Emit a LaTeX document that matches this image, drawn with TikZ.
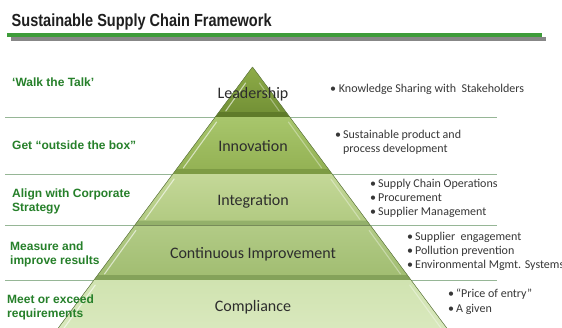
\documentclass[tikz,border=0pt]{standalone}
\usepackage{fontspec}
\setmainfont{Carlito}
\newfontfamily\arialf{Liberation Sans}
\newfontfamily\titlef[FakeStretch=0.83]{Liberation Sans}

\definecolor{barGreen}{RGB}{62,156,58}
\definecolor{barShadow}{RGB}{135,135,135}
\definecolor{labelGreen}{RGB}{38,128,42}
\definecolor{sepGreen}{RGB}{150,182,150}
\definecolor{itemGray}{RGB}{55,55,55}
\definecolor{tierText}{RGB}{45,45,45}
\definecolor{edgeGreen}{RGB}{105,130,70}
% tier colours: top, bottom, lower band
\definecolor{leadTop}{RGB}{142,172,72}
\definecolor{leadBot}{RGB}{112,142,52}
\definecolor{leadBand}{RGB}{92,120,40}
\definecolor{innoTop}{RGB}{168,198,108}
\definecolor{innoBot}{RGB}{146,176,82}
\definecolor{innoBand}{RGB}{122,152,66}
\definecolor{inteTop}{RGB}{196,216,152}
\definecolor{inteBot}{RGB}{176,201,128}
\definecolor{inteBand}{RGB}{142,172,102}
\definecolor{contTop}{RGB}{178,203,134}
\definecolor{contBot}{RGB}{160,188,112}
\definecolor{contBand}{RGB}{128,158,86}
\definecolor{compTop}{RGB}{208,227,176}
\definecolor{compBot}{RGB}{220,234,194}

% one tier of the pyramid: #1 top y, #2 bottom y, #3 top colour, #4 bottom colour, #5 band colour
\newcommand\pyrtier[5]{%
  \pgfmathsetmacro\yt{#1}%
  \pgfmathsetmacro\yb{#2}%
  \pgfmathsetmacro\ym{#2-5}%
  \pgfmathsetmacro\yha{#2-6}%
  \pgfmathsetmacro\yhb{(#1==67)?(#1+16):(#1+5)}%
  \pgfmathsetmacro\xlt{252.5-0.744*(\yt-67)}%
  \pgfmathsetmacro\xrt{252.5+0.744*(\yt-67)}%
  \pgfmathsetmacro\xlb{252.5-0.744*(\yb-67)}%
  \pgfmathsetmacro\xrb{252.5+0.744*(\yb-67)}%
  \pgfmathsetmacro\xlm{252.5-0.744*(\ym-67)}%
  \pgfmathsetmacro\xrm{252.5+0.744*(\ym-67)}%
  \pgfmathsetmacro\xlha{252.5-0.744*(\yha-67)+6}%
  \pgfmathsetmacro\xrha{252.5+0.744*(\yha-67)-6}%
  \pgfmathsetmacro\xlhb{252.5-0.744*(\yhb-67)+5}%
  \pgfmathsetmacro\xrhb{252.5+0.744*(\yhb-67)-5}%
  \fill[top color=#3, bottom color=#4]
    (\xlt,\yt) -- (\xrt,\yt) -- (\xrb,\yb) -- (\xlb,\yb) -- cycle;
  \fill[#5, opacity=0.85]
    (\xlm,\ym) -- (\xrm,\ym) -- (\xrb,\yb) -- (\xlb,\yb) -- cycle;
  \draw[highlight] (\xlha,\yha) -- (\xlhb,\yhb);
  \draw[highlight, draw opacity=0.35] (\xrha,\yha) -- (\xrhb,\yhb);
  \draw[edgeGreen, line width=0.5pt] (\xlt,\yt) -- (\xlb,\yb);
  \draw[edgeGreen, line width=0.5pt] (\xrt,\yt) -- (\xrb,\yb);
}

\begin{document}
\begin{tikzpicture}[x=1pt, y=-1pt,
  sepline/.style={draw=sepGreen, line width=0.8pt},
  highlight/.style={draw=white, draw opacity=0.6, line width=1.1pt, line cap=round},
  tierlabel/.style={font=\fontsize{16}{19}\selectfont, text=tierText, inner sep=0pt, anchor=base},
  leftlabel/.style={font=\arialf\bfseries\fontsize{12}{14}\selectfont, text=labelGreen, inner sep=0pt, anchor=base west},
  itemtext/.style={font=\fontsize{12}{14}\selectfont, text=itemGray, inner sep=0pt, anchor=base west}]
\useasboundingbox (0,0) rectangle (562,327);
\fill[white] (0,0) rectangle (562,327);

% heading and rule
\node[font=\titlef\bfseries\fontsize{17.5}{20}\selectfont, text=black!88, inner sep=0pt, anchor=base west]
  (title) at (11.5,26.7) {Sustainable Supply Chain Framework};
\fill[barShadow] (10.5,36.5) rectangle (546,40.5);
\fill[barGreen] (7.3,33.3) rectangle (542,37.4);

% row separators
\draw[sepline] (5,117) -- (497,117);
\draw[sepline] (5,174) -- (497,174);
\draw[sepline] (5,225.5) -- (497,225.5);
\draw[sepline] (5,280) -- (497,280);

% pyramid
\begin{scope}
  \clip (0,0) rectangle (562,327);
  \pyrtier{67}{117}{leadTop}{leadBot}{leadBand}
  \pyrtier{117}{174}{innoTop}{innoBot}{innoBand}
  \pyrtier{174}{225.5}{inteTop}{inteBot}{inteBand}
  \pyrtier{225.5}{280}{contTop}{contBot}{contBand}
  \pyrtier{280}{345}{compTop}{compBot}{compBot}
\end{scope}

% tier names
\node[tierlabel] (lead) at (253,98) {Leadership};
\node[tierlabel] (inno) at (253,151.5) {Innovation};
\node[tierlabel] (inte) at (253,205) {Integration};
\node[tierlabel] (cont) at (253,258.3) {Continuous Improvement};
\node[tierlabel] (comp) at (253,311.7) {Compliance};

% aims on the left
\node[leftlabel] (walk) at (12,86.7) {‘Walk the Talk’};
\node[leftlabel] (box) at (12,149.5) {Get “outside the box”};
\node[leftlabel] (align1) at (12,197.5) {Align with Corporate};
\node[leftlabel] (align2) at (12,211.5) {Strategy};
\node[leftlabel] (meas1) at (10,250.5) {Measure and};
\node[leftlabel] (meas2) at (10,264.5) {improve results};
\node[leftlabel] (meet1) at (7,303.5) {Meet or exceed};
\node[leftlabel] (meet2) at (7,317.5) {requirements};

% activities on the right
\node[itemtext] (know) at (330,92) {• Knowledge Sharing with\ \ Stakeholders};
\node[itemtext] (sus1) at (335,138.5) {•\,Sustainable product and};
\node[itemtext] (sus2) at (335,152.5) {\phantom{•\,}process development};
\node[itemtext] (sco) at (370,187.7) {•\,Supply Chain Operations};
\node[itemtext] (proc) at (370,201.7) {•\,Procurement};
\node[itemtext] (sman) at (370,215.7) {•\,Supplier Management};
\node[itemtext] (seng) at (407,240) {•\,Supplier\ \ engagement};
\node[itemtext] (poll) at (407,254) {•\,Pollution prevention};
\node[itemtext] (ems) at (407,268) {•\,Environmental Mgmt. Systems};
\node[itemtext] (price) at (448,297) {•\,“Price of entry”};
\node[itemtext] (given) at (448,312) {•\,A given};
\end{tikzpicture}
\end{document}
